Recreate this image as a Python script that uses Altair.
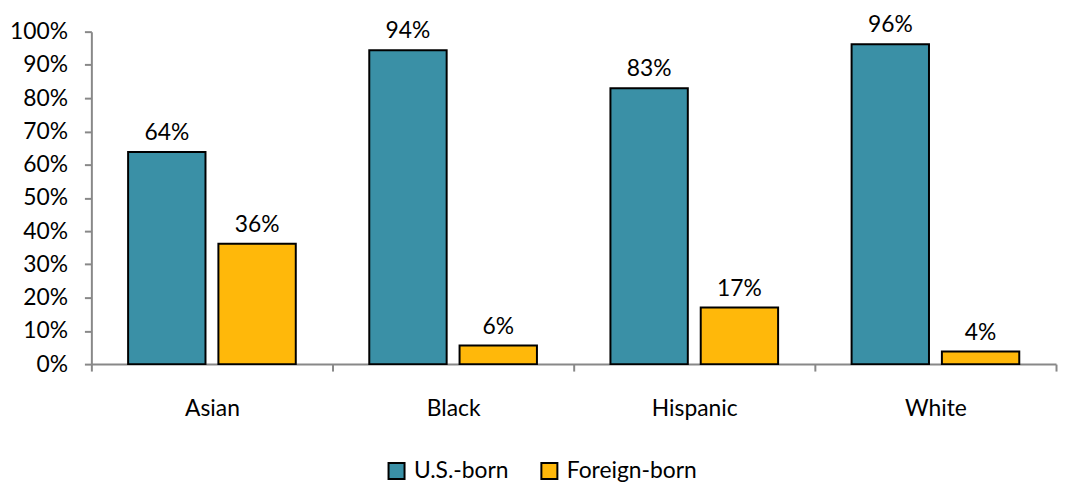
import altair as alt
import pandas as pd

categories = ["Asian", "Black", "Hispanic", "White"]
series = ["U.S.-born", "Foreign-born"]
us_born = [63.8, 94.4, 83.0, 96.2]
foreign_born = [36.2, 5.6, 17.0, 3.8]
colors = ["#3a90a6", "#ffb80a"]

rows = []
for i, c in enumerate(categories):
    rows.append({"race": c, "group": series[0], "value": us_born[i] / 100})
    rows.append({"race": c, "group": series[1], "value": foreign_born[i] / 100})
df = pd.DataFrame(rows)

FONT = "Lato"
FS = 23

x = alt.X("race:N", sort=categories, title=None,
          scale=alt.Scale(paddingInner=0, paddingOuter=0),
          axis=alt.Axis(labelAngle=0, labelFontSize=FS, labelFont=FONT, labelColor="#000",
                        labelPadding=27, tickBand="extent", tickSize=7, tickColor="#888",
                        domainColor="#888", domainWidth=2, tickWidth=2))
xo = alt.XOffset("group:N", sort=series,
                 scale=alt.Scale(paddingInner=0.143, paddingOuter=0.407))
y = alt.Y("value:Q", title=None,
          scale=alt.Scale(domain=[0, 1], nice=False),
          axis=alt.Axis(format=".0%", values=[i / 10 for i in range(11)], grid=False,
                        labelFontSize=FS, labelFont=FONT, labelColor="#000", labelPadding=17,
                        tickSize=7, tickColor="#888", domainColor="#888", domainWidth=2, tickWidth=2))
color = alt.Color("group:N", sort=series,
                  scale=alt.Scale(domain=series, range=colors),
                  legend=alt.Legend(title=None, orient="none", direction="horizontal",
                                    legendX=296, legendY=431, symbolType="square",
                                    symbolSize=260, symbolStrokeColor="#000", symbolStrokeWidth=2,
                                    labelFontSize=FS, labelFont=FONT, labelColor="#000",
                                    columnPadding=28, labelOffset=6))

base = alt.Chart(df)
bars = base.mark_bar(stroke="#000", strokeWidth=2).encode(
    x=x, xOffset=xo, y=y, color=color)
labels = base.mark_text(baseline="alphabetic", dy=-12, font=FONT, fontSize=FS, color="#000").encode(
    x=x, xOffset=xo, y=y, text=alt.Text("value:Q", format=".0%"))

chart = (bars + labels).properties(
    width=972, height=335,
    autosize=alt.AutoSizeParams(type="none"),
    padding={"left": 84, "top": 22, "right": 2, "bottom": 124},
).configure(background="white").configure_view(stroke=None, strokeWidth=0)

chart.save("out.html", embed_options={"renderer": "svg", "actions": False})
